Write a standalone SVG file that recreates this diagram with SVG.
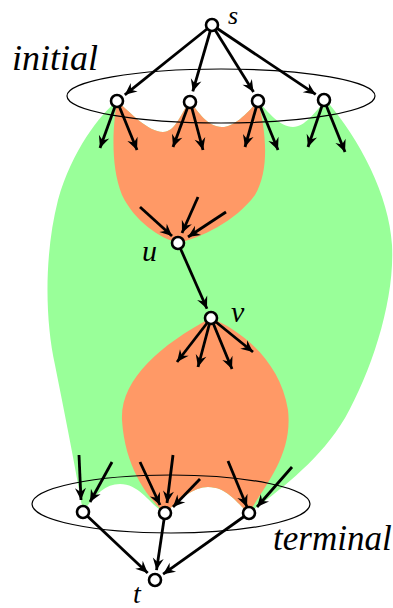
<svg xmlns="http://www.w3.org/2000/svg" width="393" height="608" viewBox="0 0 393 608">
<defs>
<style>
.green{fill:#99ff99;stroke:none}
.orange{fill:#ff9966;stroke:none}
.set{fill:none;stroke:#000;stroke-width:1.2}
.edge{stroke:#000;stroke-width:2.8;fill:none;marker-end:url(#arr)}
.node{fill:#fff;stroke:#000;stroke-width:2.6}
.lbl{font-family:"Liberation Serif","Times New Roman",serif;font-style:italic;fill:#000}
</style>
<marker id="arr" viewBox="-13 -7 15 14" refX="0" refY="0" markerWidth="15" markerHeight="14" markerUnits="userSpaceOnUse" orient="auto">
<path d="M0,0 L-12,-5.5 L-8,0 L-12,5.5 Z" fill="#000"/>
</marker>
</defs>
<g id="regions">
<path class="green" d="M117,101 C100,115 72,150 58,200 C44,255 45,320 55,365 C64,410 74,460 83,512 C95,495 105,484 120,484 C140,484 150,505 165,513 C180,500 192,487 208,487 C228,487 238,505 249,513 C280,490 320,460 345,418 C372,370 395,300 392,245 C389,195 360,140 326,100 C315,112 305,127 293,127 C280,127 268,112 258,101 C248,112 235,127 222,127 C208,127 198,112 190,101 C180,115 175,132 163,132 C148,132 130,112 117,101 Z"/>
<path class="orange" d="M117,101 C113,125 110,165 122,195 C135,222 160,238 178,243 C200,238 235,222 255,195 C270,170 266,130 258,101 C248,112 235,127 222,127 C208,127 198,112 190,101 C180,115 175,132 163,132 C148,132 130,112 117,101 Z"/>
<path class="orange" d="M211,318 C240,330 280,360 288,410 C293,455 265,485 249,513 C238,505 228,487 208,487 C192,487 180,500 165,513 C150,500 125,470 122,420 C120,380 160,345 211,318 Z"/>
</g>
<g id="initial-set"><ellipse class="set" cx="221" cy="96" rx="154" ry="27"/></g>
<g id="terminal-set"><ellipse class="set" cx="171" cy="504" rx="139" ry="29"/></g>
<g id="connectors">
<line class="edge" x1="212" y1="25" x2="124.8" y2="94.8"/>
<line class="edge" x1="212" y1="25" x2="192.8" y2="91.4"/>
<line class="edge" x1="212" y1="25" x2="253.5" y2="92"/>
<line class="edge" x1="212" y1="25" x2="315.7" y2="94.4"/>
<line class="edge" x1="117" y1="101" x2="100" y2="148"/>
<line class="edge" x1="117" y1="101" x2="137" y2="150"/>
<line class="edge" x1="190" y1="101" x2="173" y2="147"/>
<line class="edge" x1="190" y1="101" x2="203" y2="150"/>
<line class="edge" x1="258" y1="101" x2="245" y2="147"/>
<line class="edge" x1="258" y1="101" x2="278" y2="150"/>
<line class="edge" x1="324" y1="100" x2="308" y2="147"/>
<line class="edge" x1="324" y1="100" x2="345" y2="152"/>
<line class="edge" x1="140" y1="207" x2="172" y2="236"/>
<line class="edge" x1="198" y1="197" x2="182" y2="233"/>
<line class="edge" x1="226" y1="212" x2="188" y2="237"/>
<line class="edge" x1="178" y1="243" x2="207" y2="308.8"/>
<line class="edge" x1="211" y1="318" x2="177" y2="362"/>
<line class="edge" x1="211" y1="318" x2="198" y2="367"/>
<line class="edge" x1="211" y1="318" x2="232" y2="369"/>
<line class="edge" x1="211" y1="318" x2="253" y2="352"/>
<line class="edge" x1="79" y1="455" x2="81" y2="500"/>
<line class="edge" x1="112" y1="462" x2="90" y2="502"/>
<line class="edge" x1="140" y1="462" x2="160" y2="505"/>
<line class="edge" x1="173" y1="455" x2="167" y2="503"/>
<line class="edge" x1="200" y1="479" x2="173" y2="507"/>
<line class="edge" x1="228" y1="461" x2="247" y2="507"/>
<line class="edge" x1="292" y1="467" x2="257" y2="507"/>
<line class="edge" x1="83" y1="512" x2="147.7" y2="573.1"/>
<line class="edge" x1="165" y1="513" x2="156.5" y2="570.1"/>
<line class="edge" x1="249" y1="513" x2="163.1" y2="574.2"/>
</g>
<g id="node-s"><circle class="node" cx="212" cy="25" r="6"/><text class="lbl" x="228" y="24" font-size="26">s</text></g>
<g id="node-i1"><circle class="node" cx="117" cy="101" r="6"/></g>
<g id="node-i2"><circle class="node" cx="190" cy="102" r="6"/></g>
<g id="node-i3"><circle class="node" cx="258" cy="101" r="6"/></g>
<g id="node-i4"><circle class="node" cx="324" cy="100" r="6"/></g>
<g id="node-u"><circle class="node" cx="178" cy="243" r="6"/><text class="lbl" x="142" y="261" font-size="30">u</text></g>
<g id="node-v"><circle class="node" cx="211" cy="318" r="6"/><text class="lbl" x="231" y="322" font-size="30">v</text></g>
<g id="node-t1"><circle class="node" cx="83" cy="512" r="6"/></g>
<g id="node-t2"><circle class="node" cx="165" cy="513" r="6"/></g>
<g id="node-t3"><circle class="node" cx="249" cy="513" r="6"/></g>
<g id="node-t"><circle class="node" cx="155" cy="580" r="6"/><text class="lbl" x="133" y="603" font-size="28">t</text></g>
<g id="label-initial"><text class="lbl" x="12" y="70" font-size="36">initial</text></g>
<g id="label-terminal"><text class="lbl" x="273" y="550" font-size="35">terminal</text></g>
</svg>
